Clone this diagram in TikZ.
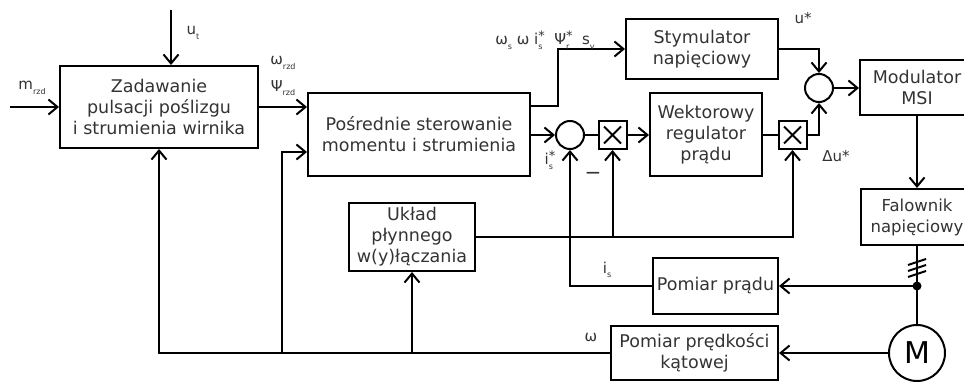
\documentclass[tikz,border=0pt]{standalone}
\usepackage{fontspec}
\setmainfont{DejaVu Sans}
\usetikzlibrary{arrows.meta,calc}
\definecolor{txt}{HTML}{333333}
\newcommand{\lsub}[1]{\raisebox{-0.3em}{\fontsize{8}{8}\selectfont #1}}
\newcommand{\lss}[1]{\rlap{\raisebox{-0.3em}{\fontsize{8}{8}\selectfont #1}}\raisebox{0.3em}{\fontsize{13}{13}\selectfont *}}
\begin{document}
\begin{tikzpicture}[x=1pt,y=-1pt,
  ln/.style={line width=2pt},
  box/.style={draw,line width=2pt,align=center,inner sep=0pt,text=txt,
    font=\fontsize{17.5}{21}\selectfont},
  sumc/.style={draw,circle,line width=2pt,minimum size=28pt,inner sep=0pt},
  mulbox/.style={draw,rectangle,line width=2pt,minimum size=28pt,inner sep=0pt},
  lbl/.style={font=\fontsize{15}{15}\selectfont,text=txt,inner sep=0pt},
  arr/.style={line width=2pt,-{Straight Barb[length=9pt,width=15pt]}},
]
\useasboundingbox (0,0) rectangle (964,382);

% boxes
\node[box,minimum width=198pt,minimum height=82pt] (zad) at (159,107)
  {Zadawanie\\pulsacji poślizgu\\i strumienia wirnika};
\node[box,minimum width=222pt,minimum height=83pt] (pos) at (419,134.5)
  {Pośrednie sterowanie\\momentu i strumienia};
\node[box,minimum width=152pt,minimum height=60pt] (sty) at (702,49)
  {Stymulator\\napięciowy};
\node[box,minimum width=112pt,minimum height=83pt] (wek) at (706,134.5)
  {Wektorowy\\regulator\\prądu};
\node[box,minimum width=114pt,minimum height=55pt] (mod) at (917,87.5)
  {Modulator\\MSI};
\node[box,minimum width=112pt,minimum height=56pt,font=\fontsize{16.5}{21}\selectfont] (fal) at (917,217)
  {Falownik\\napięciowy};
\node[box,minimum width=126pt,minimum height=68pt] (ukl) at (412,237)
  {Układ\\płynnego\\w(y)łączania};
\node[box,minimum width=125pt,minimum height=56pt] (pp) at (715.5,286)
  {Pomiar prądu};
\node[box,minimum width=167pt,minimum height=54pt] (ppk) at (694.5,353)
  {Pomiar prędkości\\kątowej};

% summing circles, multipliers, motor
\node[sumc] (c1) at (570,135) {};
\node[sumc] (c2) at (819,88) {};
\node[mulbox] (mulA) at (612.5,135) {};
\node[mulbox] (mulB) at (792.5,135) {};
\draw[ln] (mulA.center) ++(-8.5,-8.5) -- ++(17,17);
\draw[ln] (mulA.center) ++(-8.5,8.5) -- ++(17,-17);
\draw[ln] (mulB.center) ++(-8.5,-8.5) -- ++(17,17);
\draw[ln] (mulB.center) ++(-8.5,8.5) -- ++(17,-17);
\node[draw,circle,line width=2pt,minimum size=56pt,inner sep=0pt,
  font=\fontsize{30}{30}\selectfont] (mot) at (917,353) {M};

% free ends and junctions
\coordinate (mIn) at (10,107);
\coordinate (uIn) at (171,10);
\coordinate (dot) at (917,286);
\coordinate (jA) at (282,353);
\coordinate (jB) at (ukl.south |- ppk.west);

% connectors
\draw[arr] (mIn) -- (zad.west);
\draw[arr] (uIn) -- (uIn |- zad.north);
\draw[arr] (zad.east) -- (zad.east -| pos.west);
\draw[arr] ($(pos.north east)+(0,14)$) -- ++(27,0) |- (sty.west);
\draw[arr] (pos.east |- c1) -- (c1.west);
\draw[ln] (c1.east) -- (mulA.west);
\draw[arr] (mulA.east) -- (mulA.east -| wek.west);
\draw[ln] (wek.east |- mulB) -- (mulB.west);
\draw[arr] (mulB.east) -| (c2.south);
\draw[arr] (sty.east) -| (c2.north);
\draw[arr] (c2.east) -- (c2.east -| mod.west);
\draw[arr] (mod.south) -- (fal.north);
\draw[ln] (fal.south) -- (mot.north);
\fill (dot) circle (4.5pt);
\draw[ln] (dot) ++(-9,-9) -- ++(18,-6);
\draw[ln] (dot) ++(-9,-15) -- ++(18,-6);
\draw[ln] (dot) ++(-9,-21) -- ++(18,-6);
\draw[arr] (dot) -- (pp.east);
\draw[arr] (pp.west) -| (c1.south);
\draw[arr] (mot.west) -- (mot.west -| ppk.east);
\draw[arr] (ppk.west) -| (zad.south);
\draw[arr] (jA) |- ($(pos.south west)+(0,-25)$);
\draw[arr] (jB) -- (ukl.south);
\draw[arr] (ukl.east) -| (mulB.south);
\draw[arr] (ukl.east -| mulA.south) -- (mulA.south);

% labels
\node[lbl] at (193,33) {u\lsub{t}};
\node[lbl] at (32,88) {m\lsub{rzd}};
\node[lbl] at (283,63) {ω\lsub{rzd}};
\node[lbl] at (283,88) {Ψ\lsub{rzd}};
\node[lbl] at (545,40) {ω\lsub{s} ω i\lss{s}\ \ Ψ\lss{r}\ \ s\lsub{v}};
\node[lbl] at (550,160) {i\lss{s}};
\node[lbl,font=\fontsize{20}{20}\selectfont] at (593,176) {−};
\node[lbl] at (803,18) {u*};
\node[lbl] at (836,156) {Δu*};
\node[lbl] at (607,270) {i\lsub{s}};
\node[lbl] at (591,338) {ω};
\end{tikzpicture}
\end{document}
